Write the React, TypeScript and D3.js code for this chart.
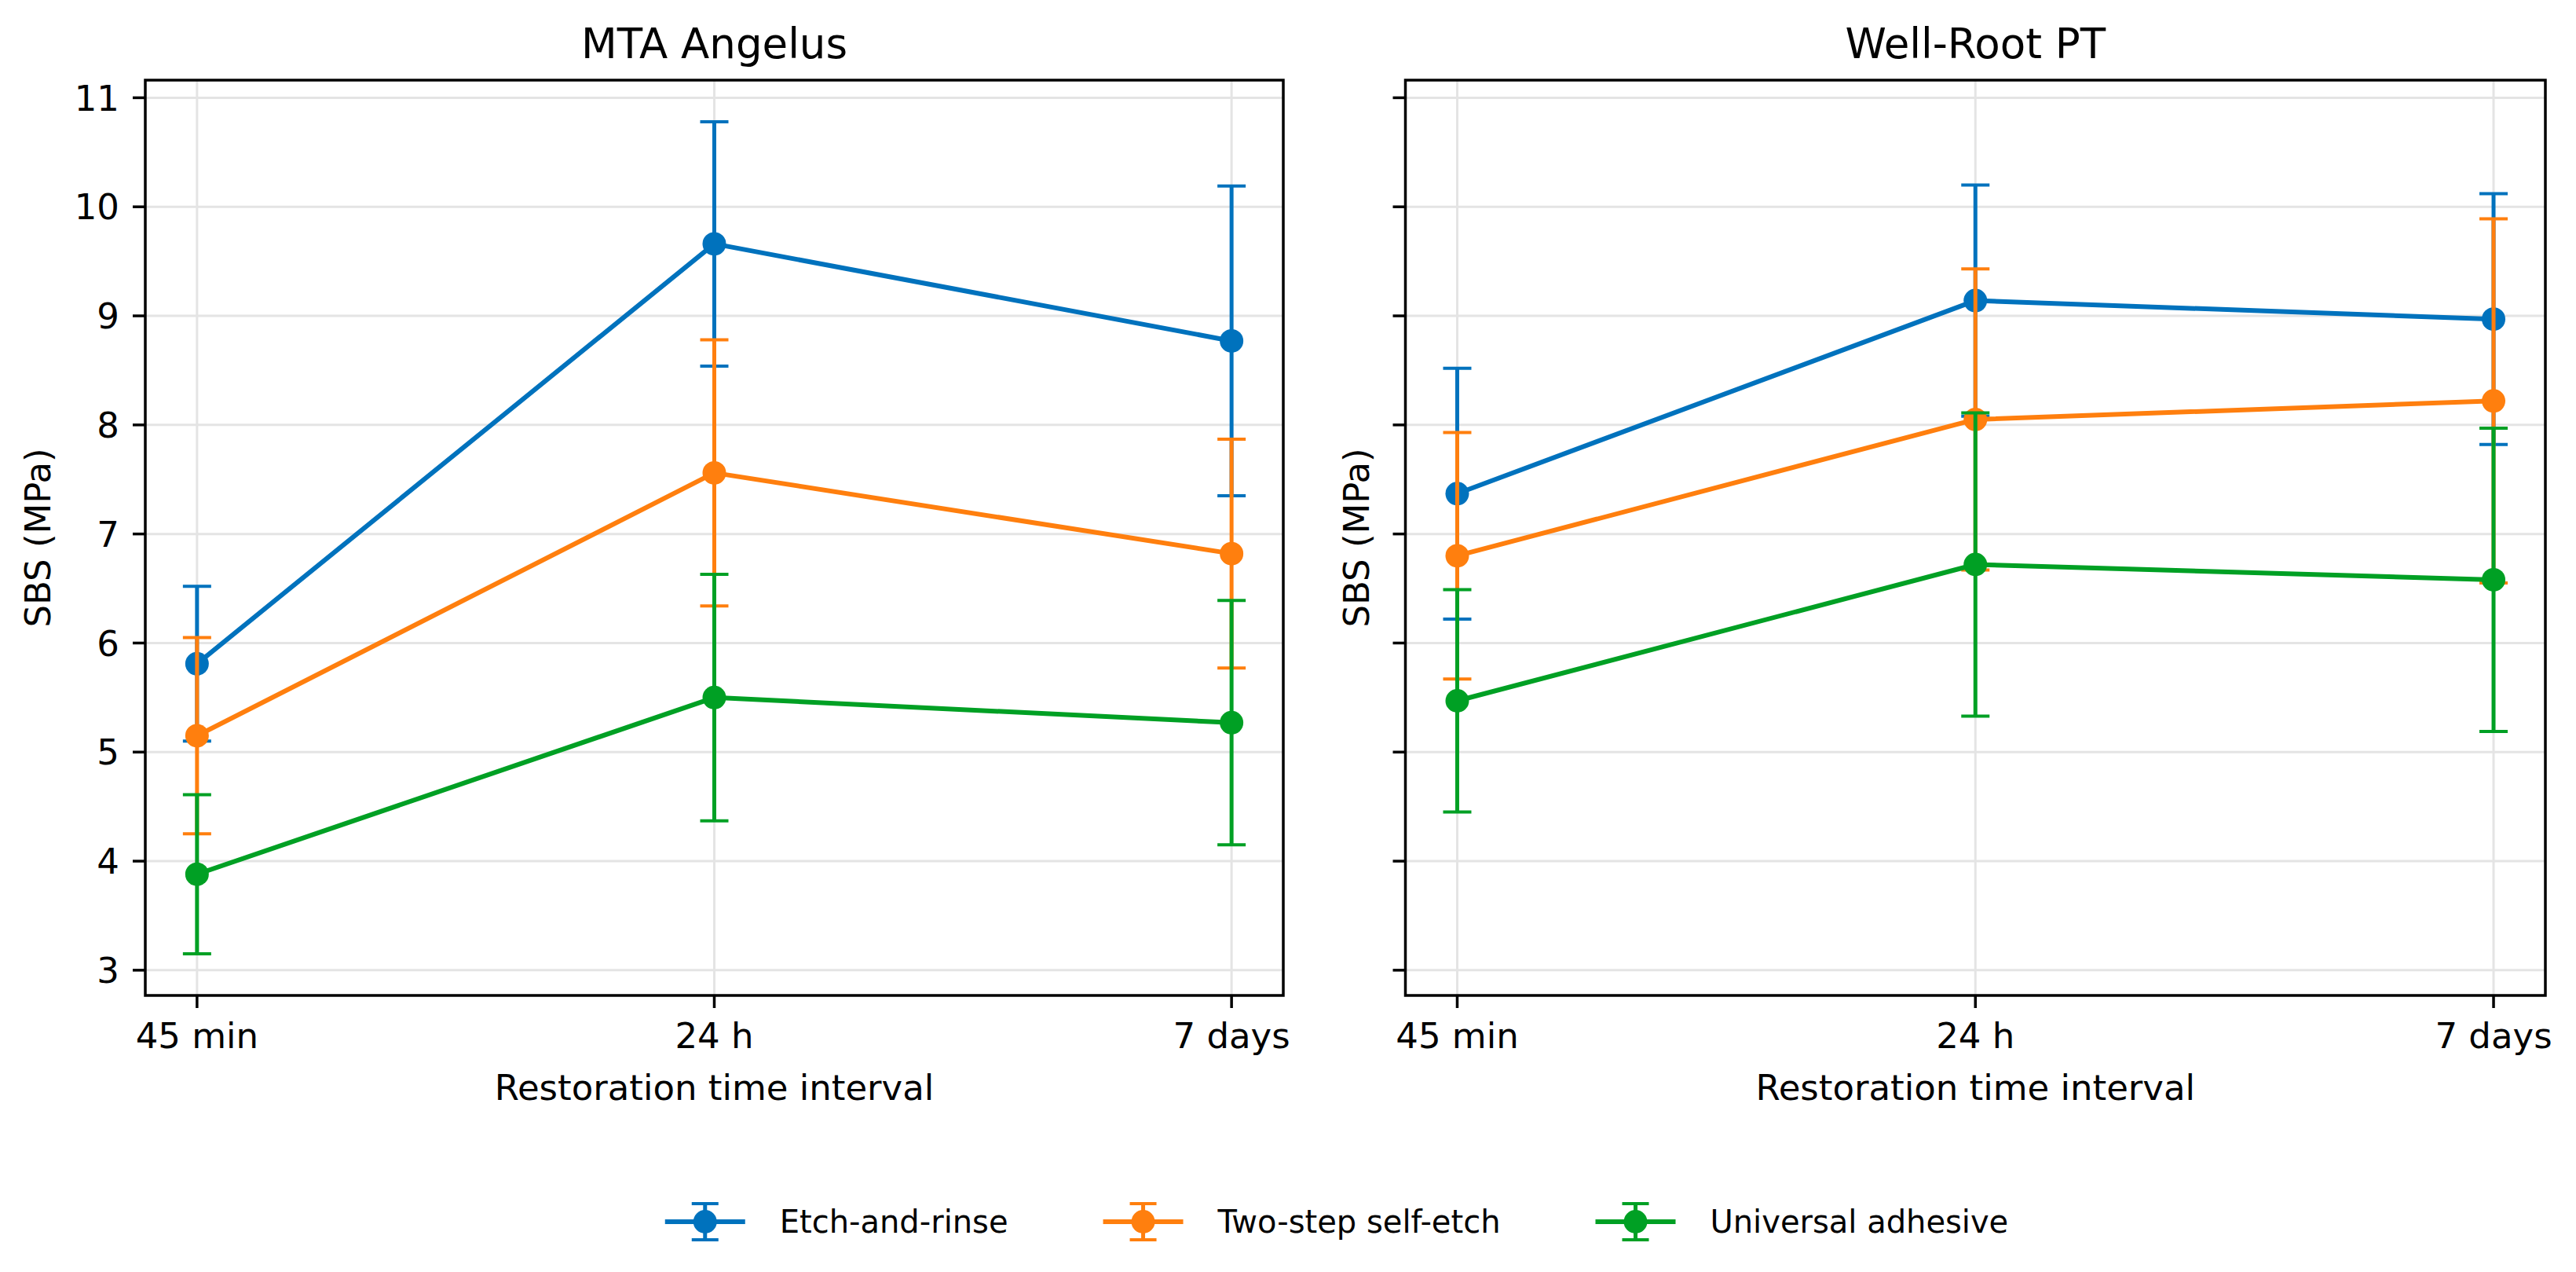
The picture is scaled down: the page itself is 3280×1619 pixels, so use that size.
import React, { useEffect, useMemo } from "react";
import * as d3 from "d3";

// ---------- data ----------
const timePoints = ["45 min", "24 h", "7 days"];
const panelTitles = ["MTA Angelus", "Well-Root PT"];
const seriesNames = ["Etch-and-rinse", "Two-step self-etch", "Universal adhesive"];
const seriesColors = ["#0072BD", "#FF7F0E", "#00A024"];
const yTicks = [3, 4, 5, 6, 7, 8, 9, 10, 11];

const mtaEtchMean = [5.81, 9.66, 8.77];
const mtaEtchSD = [0.71, 1.12, 1.42];
const mtaTwoStepMean = [5.15, 7.56, 6.82];
const mtaTwoStepSD = [0.9, 1.22, 1.05];
const mtaUniversalMean = [3.88, 5.5, 5.27];
const mtaUniversalSD = [0.73, 1.13, 1.12];

const wrEtchMean = [7.37, 9.14, 8.97];
const wrEtchSD = [1.15, 1.06, 1.15];
const wrTwoStepMean = [6.8, 8.05, 8.22];
const wrTwoStepSD = [1.13, 1.38, 1.67];
const wrUniversalMean = [5.47, 6.72, 6.58];
const wrUniversalSD = [1.02, 1.39, 1.39];

const panels = [
  {
    title: panelTitles[0],
    means: [mtaEtchMean, mtaTwoStepMean, mtaUniversalMean],
    sds: [mtaEtchSD, mtaTwoStepSD, mtaUniversalSD],
  },
  {
    title: panelTitles[1],
    means: [wrEtchMean, wrTwoStepMean, wrUniversalMean],
    sds: [wrEtchSD, wrTwoStepSD, wrUniversalSD],
  },
];

// ---------- layout ----------
const W = 3280;
const H = 1619;
const FONT = "DejaVu Sans";
const axTop = 102;
const axBottom = 1267;
const axLefts = [185, 1789.5];
const axRights = [1634, 3241];
const LINE_W = 6;
const ERR_W = 5;
const CAP_W = 4;
const CAP_HALF = 18;
const MARKER_R = 15;
const TICK_LEN = 16;
const SPINE_W = 3.5;
const GRID_COLOR = "#e4e4e4";

function measure(text: string, size: number): number {
  try {
    const c = document.createElement("canvas");
    const ctx = c.getContext("2d");
    if (ctx) {
      ctx.font = `${size}px "${FONT}"`;
      return ctx.measureText(text).width;
    }
  } catch (e) {}
  return text.length * size * 0.55;
}

export default function App() {
  useEffect(() => {
    document.body.style.margin = "0";
  }, []);

  // shared y domain with matplotlib-like 5% margins
  const allLow: number[] = [];
  const allHigh: number[] = [];
  panels.forEach((p) =>
    p.means.forEach((m, si) =>
      m.forEach((v, i) => {
        allLow.push(v - p.sds[si][i]);
        allHigh.push(v + p.sds[si][i]);
      })
    )
  );
  const lo = d3.min(allLow) as number;
  const hi = d3.max(allHigh) as number;
  const pad = (hi - lo) * 0.05;
  const y = d3.scaleLinear().domain([lo - pad, hi + pad]).range([axBottom, axTop]);

  const legendFont = 40;
  const legendLayout = useMemo(() => {
    const handle = 102;
    const gap = 44;
    const colGap = 121;
    const widths = seriesNames.map((s) => measure(s, legendFont));
    const total = widths.reduce((a, b) => a + b, 0) + seriesNames.length * (handle + gap) + (seriesNames.length - 1) * colGap;
    let x = 1702 - total / 2;
    return seriesNames.map((s, i) => {
      const item = { x0: x, cx: x + handle / 2, tx: x + handle + gap };
      x += handle + gap + widths[i] + colGap;
      return item;
    });
  }, []);

  const legendY = 1555;

  return (
    <svg width={W} height={H} viewBox={`0 0 ${W} ${H}`} style={{ display: "block", background: "#fff" }} fontFamily={FONT}>
      <rect x={0} y={0} width={W} height={H} fill="#fff" />
      {panels.map((p, pi) => {
        const x = d3
          .scaleLinear()
          .domain([-0.1, timePoints.length - 1 + 0.1])
          .range([axLefts[pi], axRights[pi]]);
        const cx = (axLefts[pi] + axRights[pi]) / 2;
        const line = d3
          .line<number>()
          .x((_, i) => x(i))
          .y((d) => y(d));
        return (
          <g key={pi}>
            {/* grid */}
            {yTicks.map((t) => (
              <line key={"gy" + t} x1={axLefts[pi]} x2={axRights[pi]} y1={y(t)} y2={y(t)} stroke={GRID_COLOR} strokeWidth={3} />
            ))}
            {timePoints.map((t, i) => (
              <line key={"gx" + t} x1={x(i)} x2={x(i)} y1={axTop} y2={axBottom} stroke={GRID_COLOR} strokeWidth={3} />
            ))}
            {/* series */}
            {p.means.map((m, si) => {
              const col = seriesColors[si];
              const sd = p.sds[si];
              return (
                <g key={"s" + si}>
                  <path d={line(m) || ""} fill="none" stroke={col} strokeWidth={LINE_W} strokeLinejoin="round" />
                  {m.map((v, i) => (
                    <g key={i}>
                      <line x1={x(i)} x2={x(i)} y1={y(v - sd[i])} y2={y(v + sd[i])} stroke={col} strokeWidth={ERR_W} />
                      <line x1={x(i) - CAP_HALF} x2={x(i) + CAP_HALF} y1={y(v + sd[i])} y2={y(v + sd[i])} stroke={col} strokeWidth={CAP_W} />
                      <line x1={x(i) - CAP_HALF} x2={x(i) + CAP_HALF} y1={y(v - sd[i])} y2={y(v - sd[i])} stroke={col} strokeWidth={CAP_W} />
                      <circle cx={x(i)} cy={y(v)} r={MARKER_R} fill={col} />
                    </g>
                  ))}
                </g>
              );
            })}
            {/* spines */}
            <rect
              x={axLefts[pi]}
              y={axTop}
              width={axRights[pi] - axLefts[pi]}
              height={axBottom - axTop}
              fill="none"
              stroke="#000"
              strokeWidth={SPINE_W}
            />
            {/* y ticks */}
            {yTicks.map((t) => (
              <g key={"yt" + t}>
                <line x1={axLefts[pi] - TICK_LEN} x2={axLefts[pi]} y1={y(t)} y2={y(t)} stroke="#000" strokeWidth={3.5} />
                {pi === 0 && (
                  <text x={axLefts[pi] - TICK_LEN - 17} y={y(t)} dy="0.36em" textAnchor="end" fontSize={45} fill="#000">
                    {t}
                  </text>
                )}
              </g>
            ))}
            {/* x ticks */}
            {timePoints.map((t, i) => (
              <g key={"xt" + t}>
                <line x1={x(i)} x2={x(i)} y1={axBottom} y2={axBottom + TICK_LEN} stroke="#000" strokeWidth={3.5} />
                <text x={x(i)} y={1334} textAnchor="middle" fontSize={45} fill="#000">
                  {t}
                </text>
              </g>
            ))}
            {/* labels */}
            <text x={cx} y={1400} textAnchor="middle" fontSize={45} fill="#000">
              Restoration time interval
            </text>
            <text
              transform={`translate(${pi === 0 ? 64 : 1743},${(axTop + axBottom) / 2}) rotate(-90)`}
              textAnchor="middle"
              fontSize={45}
              fill="#000"
            >
              SBS (MPa)
            </text>
            <text x={cx} y={74} textAnchor="middle" fontSize={53} fill="#000">
              {p.title}
            </text>
          </g>
        );
      })}
      {/* legend */}
      {seriesNames.map((s, i) => {
        const L = legendLayout[i];
        const col = seriesColors[i];
        return (
          <g key={"lg" + i}>
            <line x1={L.x0} x2={L.x0 + 102} y1={legendY} y2={legendY} stroke={col} strokeWidth={LINE_W} />
            <line x1={L.cx} x2={L.cx} y1={legendY - 23} y2={legendY + 23} stroke={col} strokeWidth={ERR_W} />
            <line x1={L.cx - 17} x2={L.cx + 17} y1={legendY - 23} y2={legendY - 23} stroke={col} strokeWidth={CAP_W} />
            <line x1={L.cx - 17} x2={L.cx + 17} y1={legendY + 23} y2={legendY + 23} stroke={col} strokeWidth={CAP_W} />
            <circle cx={L.cx} cy={legendY} r={MARKER_R} fill={col} />
            <text x={L.tx} y={legendY} dy="0.36em" fontSize={legendFont} fill="#000">
              {s}
            </text>
          </g>
        );
      })}
    </svg>
  );
}
